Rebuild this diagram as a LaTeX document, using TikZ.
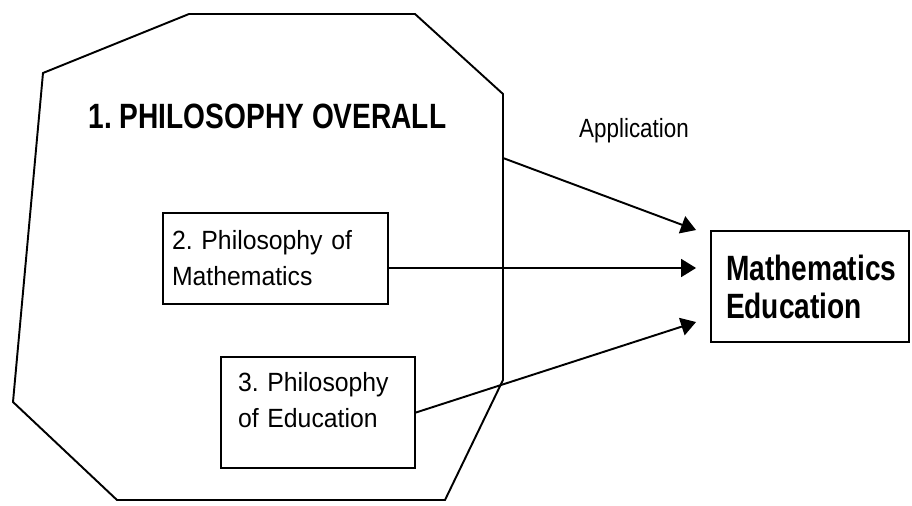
\documentclass[tikz,border=0pt]{standalone}
\usepackage{fontspec}
\setmainfont{Liberation Sans}
\newfontfamily\boxfont[FakeStretch=0.94,WordSpace=0.9]{Liberation Sans}
\newfontfamily\headfont[FakeStretch=0.8]{Liberation Sans}
\newfontfamily\applfont[FakeStretch=0.85]{Liberation Sans}
\frenchspacing
\usetikzlibrary{arrows.meta}

\begin{document}
\begin{tikzpicture}[
        x=0.02cm, y=-0.02cm,
        line width=1.1pt,
        box/.style={draw, rectangle, align=left, font=\boxfont\fontsize{15pt}{20.5pt}\selectfont\frenchspacing},
        head/.style={font=\headfont\bfseries\fontsize{20pt}{21.6pt}\selectfont\frenchspacing},
        arrow/.style={-{Triangle[length=0.3cm,width=0.36cm]}, line width=1.1pt}
    ]
        \useasboundingbox (0,0) rectangle (912,506);

        % Philosophy overall (octagon)
        \draw (43,73) -- (189,14) -- (415,14) -- (503,94) -- (503,380)
            -- (445,500) -- (117,500) -- (13,402) -- cycle;
        \coordinate (appl) at (503,158);
        \node[head, anchor=base] (overall) at (267.5,129) {1. PHILOSOPHY OVERALL};

        % Inner boxes
        \node[box, minimum width=4.5cm, minimum height=1.82cm, inner xsep=0.18cm, text width=4.14cm] (philmath) at (275.5,258.5) {2. Philosophy of\\Mathematics};
        \node[box, minimum width=3.88cm, minimum height=2.22cm, inner xsep=0.34cm, text width=3.2cm] (philedu) at (318,412.5) {3. Philosophy\\of Education\rule[-0.52cm]{0pt}{0.1cm}};

        % Target
        \node[box, head, minimum width=3.96cm, minimum height=2.22cm, inner xsep=0.3cm, text width=3.36cm] (mathedu) at (810,286.5) {Mathematics\\Education};
        \node[font=\applfont\fontsize{15pt}{18pt}\selectfont, anchor=base] (application) at (634,138) {Application};

        \draw[arrow] (appl) -- ([xshift=-0.28cm]mathedu.north west);
        \draw[arrow] ([yshift=-0.19cm]philmath.east) -- ([xshift=-0.28cm,yshift=0.37cm]mathedu.west);
        \draw[arrow] (philedu.east) -- ([xshift=-0.28cm,yshift=-0.71cm]mathedu.west);
    \end{tikzpicture}
\end{document}
